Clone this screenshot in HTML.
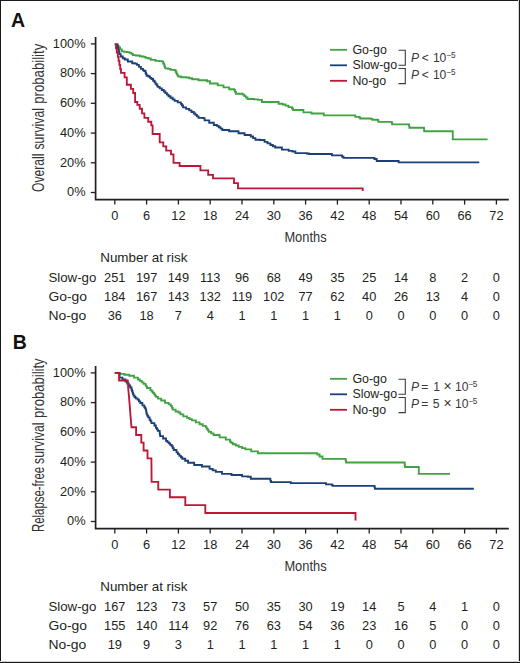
<!DOCTYPE html>
<html><head><meta charset="utf-8"><title>Survival curves</title>
<style>
html,body{margin:0;padding:0;background:#fff;}
body{width:520px;height:663px;overflow:hidden;}
svg{display:block;font-family:"Liberation Sans",sans-serif;}
.lbl{font-size:19.5px;font-weight:bold;fill:#111;}
.ax{fill:#333;}
.tk{font-size:12.8px;fill:#231f20;}
.lg{font-size:12.4px;fill:#231f20;}
.pv{font-size:12.1px;fill:#383838;}
.rk{font-size:12.8px;fill:#231f20;}
</style></head>
<body>
<svg width="520" height="663" viewBox="0 0 520 663">
<rect x="0" y="0" width="520" height="663" fill="#fff"/>
<text x="11" y="26.8" class="lbl">A</text>
<text transform="translate(43.8 191.9) rotate(-90)" x="0" y="0" class="ax" font-size="16.3" textLength="38.4" lengthAdjust="spacingAndGlyphs">Overall</text>
<text transform="translate(43.8 149.5) rotate(-90)" x="0" y="0" class="ax" font-size="16.3" textLength="41.4" lengthAdjust="spacingAndGlyphs">survival</text>
<text transform="translate(43.8 103.8) rotate(-90)" x="0" y="0" class="ax" font-size="16.3" textLength="60.1" lengthAdjust="spacingAndGlyphs">probability</text>
<path d="M95.6 37 V199.6 H508.8" fill="none" stroke="#231f20" stroke-width="1.7"/>
<line x1="90.8" y1="192.5" x2="95.6" y2="192.5" stroke="#231f20" stroke-width="1.3"/>
<text x="85.6" y="196.3" text-anchor="end" class="tk">0%</text>
<line x1="90.8" y1="162.8" x2="95.6" y2="162.8" stroke="#231f20" stroke-width="1.3"/>
<text x="85.6" y="166.6" text-anchor="end" class="tk">20%</text>
<line x1="90.8" y1="133.1" x2="95.6" y2="133.1" stroke="#231f20" stroke-width="1.3"/>
<text x="85.6" y="136.9" text-anchor="end" class="tk">40%</text>
<line x1="90.8" y1="103.3" x2="95.6" y2="103.3" stroke="#231f20" stroke-width="1.3"/>
<text x="85.6" y="107.1" text-anchor="end" class="tk">60%</text>
<line x1="90.8" y1="73.6" x2="95.6" y2="73.6" stroke="#231f20" stroke-width="1.3"/>
<text x="85.6" y="77.4" text-anchor="end" class="tk">80%</text>
<line x1="90.8" y1="43.9" x2="95.6" y2="43.9" stroke="#231f20" stroke-width="1.3"/>
<text x="85.6" y="47.7" text-anchor="end" class="tk">100%</text>
<line x1="114.8" y1="199.6" x2="114.8" y2="204.6" stroke="#231f20" stroke-width="1.3"/>
<text x="114.8" y="220.4" text-anchor="middle" class="tk">0</text>
<line x1="146.6" y1="199.6" x2="146.6" y2="204.6" stroke="#231f20" stroke-width="1.3"/>
<text x="146.6" y="220.4" text-anchor="middle" class="tk">6</text>
<line x1="178.4" y1="199.6" x2="178.4" y2="204.6" stroke="#231f20" stroke-width="1.3"/>
<text x="178.4" y="220.4" text-anchor="middle" class="tk">12</text>
<line x1="210.2" y1="199.6" x2="210.2" y2="204.6" stroke="#231f20" stroke-width="1.3"/>
<text x="210.2" y="220.4" text-anchor="middle" class="tk">18</text>
<line x1="242" y1="199.6" x2="242" y2="204.6" stroke="#231f20" stroke-width="1.3"/>
<text x="242" y="220.4" text-anchor="middle" class="tk">24</text>
<line x1="273.8" y1="199.6" x2="273.8" y2="204.6" stroke="#231f20" stroke-width="1.3"/>
<text x="273.8" y="220.4" text-anchor="middle" class="tk">30</text>
<line x1="305.6" y1="199.6" x2="305.6" y2="204.6" stroke="#231f20" stroke-width="1.3"/>
<text x="305.6" y="220.4" text-anchor="middle" class="tk">36</text>
<line x1="337.4" y1="199.6" x2="337.4" y2="204.6" stroke="#231f20" stroke-width="1.3"/>
<text x="337.4" y="220.4" text-anchor="middle" class="tk">42</text>
<line x1="369.2" y1="199.6" x2="369.2" y2="204.6" stroke="#231f20" stroke-width="1.3"/>
<text x="369.2" y="220.4" text-anchor="middle" class="tk">48</text>
<line x1="401" y1="199.6" x2="401" y2="204.6" stroke="#231f20" stroke-width="1.3"/>
<text x="401" y="220.4" text-anchor="middle" class="tk">54</text>
<line x1="432.8" y1="199.6" x2="432.8" y2="204.6" stroke="#231f20" stroke-width="1.3"/>
<text x="432.8" y="220.4" text-anchor="middle" class="tk">60</text>
<line x1="464.6" y1="199.6" x2="464.6" y2="204.6" stroke="#231f20" stroke-width="1.3"/>
<text x="464.6" y="220.4" text-anchor="middle" class="tk">66</text>
<line x1="496.4" y1="199.6" x2="496.4" y2="204.6" stroke="#231f20" stroke-width="1.3"/>
<text x="496.4" y="220.4" text-anchor="middle" class="tk">72</text>
<text x="305.5" y="242.3" text-anchor="middle" class="ax" font-size="15.5" textLength="42.2" lengthAdjust="spacingAndGlyphs">Months</text>
<path d="M114.8 44.3 L117 44.3 L117.8 44.3 L117.8 45.8 L118.7 45.8 L118.7 47.4 L120.1 47.4 L120.1 49.4 L121.8 49.4 L121.8 51.4 L124.1 51.4 L124.1 51.8 L126.8 51.8 L126.8 52.1 L129.5 52.1 L129.5 52.8 L131.5 52.8 L131.5 53.8 L132.9 53.8 L132.9 55.1 L135.6 55.1 L135.6 55.5 L137.6 55.5 L139.6 55.5 L139.6 56.2 L141.6 56.2 L141.6 56.5 L143.6 56.5 L143.6 56.8 L145.6 56.8 L145.6 57.8 L148.4 57.8 L148.4 58.5 L150.8 58.5 L150.8 59.8 L155.6 59.8 L155.6 60.8 L159.4 60.8 L159.4 61.1 L162.3 61.1 L162.3 61.6 L163.2 61.6 L163.2 63.5 L164.2 63.5 L164.2 65.5 L164.7 65.5 L164.7 66.9 L165.2 66.9 L165.2 68.3 L168.1 68.3 L168.1 68.8 L170.5 68.8 L170.5 69.8 L174.8 69.8 L174.8 70.2 L175.8 70.2 L175.8 72.2 L176.7 72.2 L176.7 74.1 L177.4 74.1 L177.4 75.3 L178.2 75.3 L178.2 76.5 L181.1 76.5 L181.1 77.2 L186.3 77.2 L186.3 77.5 L189.2 77.5 L189.2 78.2 L192.1 78.2 L192.1 79.2 L198.5 79.2 L198.5 80.2 L207.1 80.2 L207.1 81.2 L210 81.2 L210 83.5 L213.8 83.5 L217.7 83.5 L217.7 85.4 L223.5 85.4 L223.5 87.3 L229.2 87.3 L229.2 89.2 L234 89.2 L234 89.8 L235 89.8 L235 91.8 L236 91.8 L236 93.7 L242.7 93.7 L242.7 94.6 L244.3 94.6 L244.3 96.1 L245.9 96.1 L245.9 97.5 L247.5 97.5 L247.5 99 L254.2 99 L254.2 99.4 L257.9 99.4 L257.9 99.8 L261.9 99.8 L261.9 102 L277.5 102 L278.6 102 L278.6 103.7 L282.7 103.7 L282.7 104.5 L285.6 104.5 L285.6 105.6 L288.4 105.6 L288.4 107.1 L290.8 107.1 L292 107.1 L292 108.5 L293.1 108.5 L293.1 110 L301.7 110 L303.4 110 L303.4 112.3 L310.4 112.3 L311.5 112.3 L311.5 113.5 L323 113.5 L323.8 113.5 L323.8 115.4 L354.1 115.4 L355.3 115.4 L355.3 116.8 L359.3 116.8 L359.3 117.5 L360.2 117.5 L360.2 118.5 L370.6 118.5 L370.6 118.8 L372.3 118.8 L372.3 119.7 L377.5 119.7 L377.5 120 L378.3 120 L378.3 121.8 L391.3 121.8 L391.8 121.8 L391.8 123.1 L392.2 123.1 L392.2 124.4 L408.8 124.4 L409.1 124.4 L409.1 126.1 L409.4 126.1 L409.4 127.7 L423.8 127.7 L424 127.7 L424 129.4 L424.2 129.4 L424.2 131.2 L452.8 131.2 L452.8 139.3 L487.6 139.3" fill="none" stroke="#42a243" stroke-width="1.85" stroke-linejoin="miter" stroke-linecap="butt"/>
<path d="M114.8 44.3 L117 44.3 L117.3 44.3 L117.3 45.8 L117.7 45.8 L117.7 47.2 L118.1 47.2 L118.1 48.6 L118.4 48.6 L118.4 50.1 L118.9 50.1 L118.9 52.1 L119.4 52.1 L119.4 54.1 L120.7 54.1 L120.7 56.5 L122.8 56.5 L122.8 58.2 L124.8 58.2 L124.8 59.5 L127.5 59.5 L127.8 59.5 L127.8 61.5 L130.2 61.5 L132.2 61.5 L132.2 63.2 L134.9 63.2 L134.9 63.6 L136.9 63.6 L136.9 64.9 L138.9 64.9 L138.9 66.9 L140.9 66.9 L140.9 68.9 L143 68.9 L143 70.3 L144.3 70.3 L144.3 71 L145.6 71 L145.6 73 L146.1 73 L146.1 74.3 L146.7 74.3 L146.7 75.7 L148.5 75.7 L148.5 76.5 L150 76.5 L150 77.8 L151.5 77.8 L151.5 79 L153.1 79 L153.1 80.7 L154.6 80.7 L154.6 82.3 L155.6 82.3 L155.6 83.8 L156.7 83.8 L156.7 85.4 L157.7 85.4 L157.7 86.9 L159.7 86.9 L159.7 88.4 L161.8 88.4 L161.8 90 L163.8 90 L163.8 91.5 L165.4 91.5 L165.4 93.1 L166.9 93.1 L166.9 94.6 L168.5 94.6 L168.5 96.2 L170.5 96.2 L170.5 97.7 L172.6 97.7 L172.6 99.3 L174.6 99.3 L174.6 100.8 L177.7 100.8 L177.7 102.3 L180.8 102.3 L180.8 103.8 L181.9 103.8 L181.9 105.5 L183.1 105.5 L183.1 107.3 L186.1 107.3 L186.1 108.8 L189.2 108.8 L189.2 110.4 L191.5 110.4 L191.5 112 L193.8 112 L193.8 113.5 L195.4 113.5 L195.4 114.9 L196.9 114.9 L196.9 116.4 L198.5 116.4 L198.5 117.8 L203.1 117.8 L203.1 118.1 L204.6 118.1 L204.6 120.4 L209.2 120.4 L209.2 122.7 L213.8 122.7 L213.8 125 L216.9 125 L216.9 125.8 L218.7 125.8 L218.7 127.2 L220.5 127.2 L220.5 128.6 L222.3 128.6 L222.3 130 L229.2 130 L229.2 131.2 L234.6 131.2 L238.5 131.2 L238.5 133.2 L241.5 133.2 L244.6 133.2 L244.6 135 L250.8 135 L250.8 136.5 L253.1 136.5 L253.1 138.1 L255.4 138.1 L255.4 139.7 L259.8 139.7 L259.8 140 L264.6 140 L264.6 141.9 L267.5 141.9 L267.5 143.4 L270.4 143.4 L270.4 145 L272.8 145 L272.8 146.2 L275.2 146.2 L275.2 147.5 L280 147.5 L281.9 147.5 L281.9 149.6 L288.7 149.6 L288.7 150.8 L292.5 150.8 L292.5 151.5 L295.4 151.5 L295.4 153.1 L306.9 153.1 L306.9 153.5 L308.8 153.5 L308.8 154 L331 154 L331.9 154 L331.9 155.4 L340.6 155.4 L342.1 155.4 L342.1 156.7 L343.5 156.7 L343.5 157.9 L373.8 157.9 L374.4 157.9 L374.4 159 L376.7 159 L376.7 161 L398.1 161 L398.6 161 L398.6 162.3 L479.3 162.3" fill="none" stroke="#1b4076" stroke-width="1.85" stroke-linejoin="miter" stroke-linecap="butt"/>
<path d="M114.8 44.3 L116 44.3 L116 48.4 L116.8 48.4 L116.8 52.5 L117.8 52.5 L117.8 56.7 L118.6 56.7 L118.6 60.8 L119.4 60.8 L119.4 64.9 L120.2 64.9 L120.2 69.1 L121 69.1 L121 72.8 L124.6 72.8 L124.6 77.3 L126.8 77.3 L126.8 84.7 L130.9 84.7 L130.9 88.8 L133.2 88.8 L133.2 93 L135.1 93 L135.1 102 L137.3 102 L137.3 104.9 L139.7 104.9 L139.7 108.7 L142 108.7 L142 113.4 L144.4 113.4 L144.4 117.8 L148.2 117.8 L148.2 121.7 L151.3 121.7 L151.3 125.4 L152.6 125.4 L152.6 134 L159.7 134 L159.7 142.4 L163.3 142.4 L163.3 146.3 L166.2 146.3 L166.2 150.6 L171 150.6 L171 154.3 L173.5 154.3 L173.5 162.9 L179.6 162.9 L179.6 166 L200.4 166 L200.4 170.4 L208.2 170.4 L208.2 174.9 L213 174.9 L213 178.4 L234 178.4 L234 183.1 L238 183.1 L238 188.3 L362.7 188.3 L362.7 191" fill="none" stroke="#bb1838" stroke-width="1.85" stroke-linejoin="miter" stroke-linecap="butt"/>
<line x1="330" y1="49.8" x2="347" y2="49.8" stroke="#42a243" stroke-width="1.8"/>
<text x="352.4" y="53.6" class="lg">Go-go</text>
<line x1="330" y1="65.3" x2="347" y2="65.3" stroke="#1b4076" stroke-width="1.8"/>
<text x="352.4" y="69.1" class="lg">Slow-go</text>
<line x1="330" y1="80.8" x2="347" y2="80.8" stroke="#bb1838" stroke-width="1.8"/>
<text x="352.4" y="84.6" class="lg">No-go</text>
<path d="M398.5 50.3 H405.3 V65.2 H398.5 M398.5 68.5 H405.3 V83.6 H398.5" fill="none" stroke="#3a3a3a" stroke-width="1.1"/>
<text x="411" y="62" class="pv" font-style="italic">P</text>
<text x="421.7" y="62" class="pv">&lt;</text>
<text x="432.9" y="62" class="pv">10</text>
<text x="446.7" y="57.5" class="pv" style="font-size:8.2px">−</text>
<text x="451.1" y="57.5" class="pv" style="font-size:8.2px">5</text>
<text x="411" y="79.2" class="pv" font-style="italic">P</text>
<text x="421.7" y="79.2" class="pv">&lt;</text>
<text x="432.9" y="79.2" class="pv">10</text>
<text x="446.7" y="74.7" class="pv" style="font-size:8.2px">−</text>
<text x="451.1" y="74.7" class="pv" style="font-size:8.2px">5</text>
<text x="100.2" y="262.3" class="rk" textLength="87.3" lengthAdjust="spacingAndGlyphs">Number at risk</text>
<text x="48.4" y="281.6" class="rk" textLength="48.0" lengthAdjust="spacingAndGlyphs">Slow-go</text>
<text x="114.8" y="281.6" text-anchor="middle" class="rk">251</text>
<text x="146.6" y="281.6" text-anchor="middle" class="rk">197</text>
<text x="178.4" y="281.6" text-anchor="middle" class="rk">149</text>
<text x="210.2" y="281.6" text-anchor="middle" class="rk">113</text>
<text x="242" y="281.6" text-anchor="middle" class="rk">96</text>
<text x="273.8" y="281.6" text-anchor="middle" class="rk">68</text>
<text x="305.6" y="281.6" text-anchor="middle" class="rk">49</text>
<text x="337.4" y="281.6" text-anchor="middle" class="rk">35</text>
<text x="369.2" y="281.6" text-anchor="middle" class="rk">25</text>
<text x="401" y="281.6" text-anchor="middle" class="rk">14</text>
<text x="432.8" y="281.6" text-anchor="middle" class="rk">8</text>
<text x="464.6" y="281.6" text-anchor="middle" class="rk">2</text>
<text x="496.4" y="281.6" text-anchor="middle" class="rk">0</text>
<text x="48.4" y="300.7" class="rk" textLength="38.6" lengthAdjust="spacingAndGlyphs">Go-go</text>
<text x="114.8" y="300.7" text-anchor="middle" class="rk">184</text>
<text x="146.6" y="300.7" text-anchor="middle" class="rk">167</text>
<text x="178.4" y="300.7" text-anchor="middle" class="rk">143</text>
<text x="210.2" y="300.7" text-anchor="middle" class="rk">132</text>
<text x="242" y="300.7" text-anchor="middle" class="rk">119</text>
<text x="273.8" y="300.7" text-anchor="middle" class="rk">102</text>
<text x="305.6" y="300.7" text-anchor="middle" class="rk">77</text>
<text x="337.4" y="300.7" text-anchor="middle" class="rk">62</text>
<text x="369.2" y="300.7" text-anchor="middle" class="rk">40</text>
<text x="401" y="300.7" text-anchor="middle" class="rk">26</text>
<text x="432.8" y="300.7" text-anchor="middle" class="rk">13</text>
<text x="464.6" y="300.7" text-anchor="middle" class="rk">4</text>
<text x="496.4" y="300.7" text-anchor="middle" class="rk">0</text>
<text x="48.4" y="319.8" class="rk" textLength="37.9" lengthAdjust="spacingAndGlyphs">No-go</text>
<text x="114.8" y="319.8" text-anchor="middle" class="rk">36</text>
<text x="146.6" y="319.8" text-anchor="middle" class="rk">18</text>
<text x="178.4" y="319.8" text-anchor="middle" class="rk">7</text>
<text x="210.2" y="319.8" text-anchor="middle" class="rk">4</text>
<text x="242" y="319.8" text-anchor="middle" class="rk">1</text>
<text x="273.8" y="319.8" text-anchor="middle" class="rk">1</text>
<text x="305.6" y="319.8" text-anchor="middle" class="rk">1</text>
<text x="337.4" y="319.8" text-anchor="middle" class="rk">1</text>
<text x="369.2" y="319.8" text-anchor="middle" class="rk">0</text>
<text x="401" y="319.8" text-anchor="middle" class="rk">0</text>
<text x="432.8" y="319.8" text-anchor="middle" class="rk">0</text>
<text x="464.6" y="319.8" text-anchor="middle" class="rk">0</text>
<text x="496.4" y="319.8" text-anchor="middle" class="rk">0</text>
<text x="12.7" y="348.7" class="lbl">B</text>
<text transform="translate(43.8 532) rotate(-90)" x="0" y="0" class="ax" font-size="16.3" textLength="65.1" lengthAdjust="spacingAndGlyphs">Relapse-free</text>
<text transform="translate(43.8 464) rotate(-90)" x="0" y="0" class="ax" font-size="16.3" textLength="41.6" lengthAdjust="spacingAndGlyphs">survival</text>
<text transform="translate(43.8 417.9) rotate(-90)" x="0" y="0" class="ax" font-size="16.3" textLength="59.5" lengthAdjust="spacingAndGlyphs">probability</text>
<path d="M95.6 366 V528.6 H508.8" fill="none" stroke="#231f20" stroke-width="1.7"/>
<line x1="90.8" y1="521.5" x2="95.6" y2="521.5" stroke="#231f20" stroke-width="1.3"/>
<text x="85.6" y="525.3" text-anchor="end" class="tk">0%</text>
<line x1="90.8" y1="491.8" x2="95.6" y2="491.8" stroke="#231f20" stroke-width="1.3"/>
<text x="85.6" y="495.6" text-anchor="end" class="tk">20%</text>
<line x1="90.8" y1="462.1" x2="95.6" y2="462.1" stroke="#231f20" stroke-width="1.3"/>
<text x="85.6" y="465.9" text-anchor="end" class="tk">40%</text>
<line x1="90.8" y1="432.3" x2="95.6" y2="432.3" stroke="#231f20" stroke-width="1.3"/>
<text x="85.6" y="436.1" text-anchor="end" class="tk">60%</text>
<line x1="90.8" y1="402.6" x2="95.6" y2="402.6" stroke="#231f20" stroke-width="1.3"/>
<text x="85.6" y="406.4" text-anchor="end" class="tk">80%</text>
<line x1="90.8" y1="372.9" x2="95.6" y2="372.9" stroke="#231f20" stroke-width="1.3"/>
<text x="85.6" y="376.7" text-anchor="end" class="tk">100%</text>
<line x1="114.8" y1="528.6" x2="114.8" y2="533.6" stroke="#231f20" stroke-width="1.3"/>
<text x="114.8" y="549.4" text-anchor="middle" class="tk">0</text>
<line x1="146.6" y1="528.6" x2="146.6" y2="533.6" stroke="#231f20" stroke-width="1.3"/>
<text x="146.6" y="549.4" text-anchor="middle" class="tk">6</text>
<line x1="178.4" y1="528.6" x2="178.4" y2="533.6" stroke="#231f20" stroke-width="1.3"/>
<text x="178.4" y="549.4" text-anchor="middle" class="tk">12</text>
<line x1="210.2" y1="528.6" x2="210.2" y2="533.6" stroke="#231f20" stroke-width="1.3"/>
<text x="210.2" y="549.4" text-anchor="middle" class="tk">18</text>
<line x1="242" y1="528.6" x2="242" y2="533.6" stroke="#231f20" stroke-width="1.3"/>
<text x="242" y="549.4" text-anchor="middle" class="tk">24</text>
<line x1="273.8" y1="528.6" x2="273.8" y2="533.6" stroke="#231f20" stroke-width="1.3"/>
<text x="273.8" y="549.4" text-anchor="middle" class="tk">30</text>
<line x1="305.6" y1="528.6" x2="305.6" y2="533.6" stroke="#231f20" stroke-width="1.3"/>
<text x="305.6" y="549.4" text-anchor="middle" class="tk">36</text>
<line x1="337.4" y1="528.6" x2="337.4" y2="533.6" stroke="#231f20" stroke-width="1.3"/>
<text x="337.4" y="549.4" text-anchor="middle" class="tk">42</text>
<line x1="369.2" y1="528.6" x2="369.2" y2="533.6" stroke="#231f20" stroke-width="1.3"/>
<text x="369.2" y="549.4" text-anchor="middle" class="tk">48</text>
<line x1="401" y1="528.6" x2="401" y2="533.6" stroke="#231f20" stroke-width="1.3"/>
<text x="401" y="549.4" text-anchor="middle" class="tk">54</text>
<line x1="432.8" y1="528.6" x2="432.8" y2="533.6" stroke="#231f20" stroke-width="1.3"/>
<text x="432.8" y="549.4" text-anchor="middle" class="tk">60</text>
<line x1="464.6" y1="528.6" x2="464.6" y2="533.6" stroke="#231f20" stroke-width="1.3"/>
<text x="464.6" y="549.4" text-anchor="middle" class="tk">66</text>
<line x1="496.4" y1="528.6" x2="496.4" y2="533.6" stroke="#231f20" stroke-width="1.3"/>
<text x="496.4" y="549.4" text-anchor="middle" class="tk">72</text>
<text x="305.5" y="571.3" text-anchor="middle" class="ax" font-size="15.5" textLength="42.2" lengthAdjust="spacingAndGlyphs">Months</text>
<path d="M114.8 372.8 L119.6 372.8 L119.6 373.8 L124.4 373.8 L124.4 374.7 L129.2 374.7 L129.2 375.7 L134 375.7 L134 377.6 L137.9 377.6 L137.9 379.5 L139.8 379.5 L139.8 380.9 L141.7 380.9 L141.7 382.4 L143.6 382.4 L143.6 383.9 L145.6 383.9 L145.6 385.3 L146.3 385.3 L146.3 386.6 L147 386.6 L147 388 L150.4 388 L150.4 390.1 L151.7 390.1 L151.7 391.5 L152.9 391.5 L152.9 392.9 L154.2 392.9 L154.2 394.3 L155.1 394.3 L155.1 395.6 L156 395.6 L156 396.8 L158 396.8 L158 398.6 L161.2 398.6 L161.2 400.5 L165 400.5 L165 402.9 L168.8 402.9 L168.8 404.3 L170.8 404.3 L170.8 405.8 L171.8 405.8 L171.8 407.7 L172.7 407.7 L172.7 409.6 L175.6 409.6 L175.6 411.5 L178.5 411.5 L178.5 412.5 L180.4 412.5 L180.4 414.4 L183.3 414.4 L183.3 416.3 L187.1 416.3 L187.1 417.8 L189.5 417.8 L189.5 419.1 L191.9 419.1 L191.9 420.4 L195.8 420.4 L195.8 422.3 L199.6 422.3 L199.6 424.2 L202.7 424.2 L202.7 425.8 L205.8 425.8 L205.8 427.3 L206.8 427.3 L206.8 428.8 L207.8 428.8 L207.8 430.4 L208.8 430.4 L208.8 431.9 L211.2 431.9 L211.2 433.4 L213.5 433.4 L213.5 435 L219.6 435 L219.6 437.3 L225.8 437.3 L225.8 439.6 L230 439.6 L230 441.7 L231.4 441.7 L231.4 442.9 L232.9 442.9 L232.9 444.2 L235.8 444.2 L235.8 445.5 L238.7 445.5 L238.7 446.9 L242.1 446.9 L242.1 448.1 L245.4 448.1 L245.4 449.4 L251.2 449.4 L251.2 451.3 L257.9 451.3 L257.9 453.2 L314.4 453.2 L317.3 453.2 L317.3 454.5 L319.6 454.5 L319.6 456.5 L322.5 456.5 L322.5 458.8 L345 458.8 L345.6 458.8 L345.6 460.6 L346.1 460.6 L346.1 462.5 L404.5 462.5 L404.7 462.5 L404.7 464 L404.8 464 L404.8 465.5 L405 465.5 L405 467 L418.8 467 L418.8 473.9 L450 473.9" fill="none" stroke="#42a243" stroke-width="1.85" stroke-linejoin="miter" stroke-linecap="butt"/>
<path d="M114.8 372.8 L119.6 372.8 L119.6 373.8 L119.6 377.6 L122.5 377.6 L122.5 379.5 L125.5 379.5 L125.5 381.5 L127.2 381.5 L127.2 383.5 L128.8 383.5 L128.8 385.5 L130.2 385.5 L130.2 387.5 L131.5 387.5 L131.5 389.5 L132 389.5 L132 391 L132.5 391 L132.5 392.6 L133 392.6 L133 394.1 L133.5 394.1 L133.5 395.6 L134.6 395.6 L134.6 397 L135.6 397 L135.6 398.3 L137.6 398.3 L137.6 399.6 L138.9 399.6 L138.9 401.3 L140.3 401.3 L140.3 403 L142.4 403 L142.4 405.3 L144.3 405.3 L144.3 407.2 L145.1 407.2 L145.1 408.4 L145.8 408.4 L145.8 409.6 L146.1 409.6 L146.1 411.2 L146.4 411.2 L146.4 412.8 L146.7 412.8 L146.7 414.4 L147.4 414.4 L147.4 415.9 L148.2 415.9 L148.2 417.3 L149.6 417.3 L149.6 419.7 L150.6 419.7 L150.6 421.4 L151.5 421.4 L151.5 423.1 L154.4 423.1 L154.4 425.5 L155.9 425.5 L155.9 427.9 L156.9 427.9 L156.9 429.4 L157.8 429.4 L157.8 430.8 L159.7 430.8 L159.7 433.2 L159.9 433.2 L159.9 434.6 L160.2 434.6 L160.2 436.1 L163.1 436.1 L163.1 438.5 L166 438.5 L166 440.9 L167.4 440.9 L167.4 442.1 L168.8 442.1 L168.8 443.3 L170.2 443.3 L170.2 444.8 L171.7 444.8 L171.7 446.2 L172.7 446.2 L172.7 448.1 L173.7 448.1 L173.7 450 L176.5 450 L176.5 452.4 L177.9 452.4 L177.9 454.1 L179.4 454.1 L179.4 455.8 L180.9 455.8 L180.9 457.2 L182.3 457.2 L182.3 458.7 L185.2 458.7 L185.2 460.7 L188.1 460.7 L188.1 462.7 L194.2 462.7 L194.2 465 L201.9 465 L201.9 466.5 L209.6 466.5 L209.6 468.8 L212.7 468.8 L212.7 470.4 L215.8 470.4 L215.8 471.9 L222 471.9 L222 473.8 L230.6 473.8 L231.5 473.8 L231.5 475 L241.2 475 L242.1 475 L242.1 476.3 L247.9 476.3 L247.9 476.7 L250.8 476.7 L250.8 478.7 L267.1 478.7 L270.4 478.7 L270.4 480.8 L271 480.8 L271 482.1 L289.2 482.1 L290.8 482.1 L290.8 483.1 L325.5 483.1 L326 483.1 L326 484.4 L331.8 484.4 L331.8 484.7 L332.5 484.7 L332.5 485.8 L374.2 485.8 L374.5 485.8 L374.5 487.2 L374.9 487.2 L374.9 488.7 L473.8 488.7" fill="none" stroke="#1b4076" stroke-width="1.85" stroke-linejoin="miter" stroke-linecap="butt"/>
<path d="M114.8 372.8 L119.1 372.8 L119.1 380.5 L127.8 380.5 L128.2 388.2 L128.9 396 L129.6 403.8 L130.2 411.6 L130.8 419.4 L131.5 427.2 L136.1 427.2 L136.1 435 L141.3 435 L141.3 442.6 L143.6 442.6 L143.6 450.5 L147.5 450.5 L147.5 458.4 L151.4 458.4 L151.6 481.8 L158.2 481.8 L158.3 489.6 L169.9 489.6 L169.9 497.2 L185.3 497.2 L185.3 505.1 L205.3 505.1 L205.3 513 L355.5 513 L355.5 520.6" fill="none" stroke="#bb1838" stroke-width="1.85" stroke-linejoin="miter" stroke-linecap="butt"/>
<line x1="330" y1="378.8" x2="347" y2="378.8" stroke="#42a243" stroke-width="1.8"/>
<text x="352.4" y="382.6" class="lg">Go-go</text>
<line x1="330" y1="394.3" x2="347" y2="394.3" stroke="#1b4076" stroke-width="1.8"/>
<text x="352.4" y="398.1" class="lg">Slow-go</text>
<line x1="330" y1="409.8" x2="347" y2="409.8" stroke="#bb1838" stroke-width="1.8"/>
<text x="352.4" y="413.6" class="lg">No-go</text>
<path d="M398.5 379.3 H405.3 V394.2 H398.5 M398.5 397.5 H405.3 V412.6 H398.5" fill="none" stroke="#3a3a3a" stroke-width="1.1"/>
<text x="410.9" y="391" class="pv" font-style="italic">P</text>
<text x="421.2" y="391" class="pv">=</text>
<text x="433.3" y="391" class="pv">1</text>
<text x="443.4" y="391" class="pv" style="font-size:14px">×</text>
<text x="455" y="391" class="pv">10</text>
<text x="468.8" y="386.5" class="pv" style="font-size:8.2px">−</text>
<text x="472.8" y="386.5" class="pv" style="font-size:8.2px">5</text>
<text x="410.9" y="408.2" class="pv" font-style="italic">P</text>
<text x="421.2" y="408.2" class="pv">=</text>
<text x="432.8" y="408.2" class="pv">5</text>
<text x="443.4" y="408.2" class="pv" style="font-size:14px">×</text>
<text x="455" y="408.2" class="pv">10</text>
<text x="468.8" y="403.7" class="pv" style="font-size:8.2px">−</text>
<text x="472.8" y="403.7" class="pv" style="font-size:8.2px">5</text>
<text x="100.2" y="591.3" class="rk" textLength="87.3" lengthAdjust="spacingAndGlyphs">Number at risk</text>
<text x="48.4" y="610.6" class="rk" textLength="48.0" lengthAdjust="spacingAndGlyphs">Slow-go</text>
<text x="114.8" y="610.6" text-anchor="middle" class="rk">167</text>
<text x="146.6" y="610.6" text-anchor="middle" class="rk">123</text>
<text x="178.4" y="610.6" text-anchor="middle" class="rk">73</text>
<text x="210.2" y="610.6" text-anchor="middle" class="rk">57</text>
<text x="242" y="610.6" text-anchor="middle" class="rk">50</text>
<text x="273.8" y="610.6" text-anchor="middle" class="rk">35</text>
<text x="305.6" y="610.6" text-anchor="middle" class="rk">30</text>
<text x="337.4" y="610.6" text-anchor="middle" class="rk">19</text>
<text x="369.2" y="610.6" text-anchor="middle" class="rk">14</text>
<text x="401" y="610.6" text-anchor="middle" class="rk">5</text>
<text x="432.8" y="610.6" text-anchor="middle" class="rk">4</text>
<text x="464.6" y="610.6" text-anchor="middle" class="rk">1</text>
<text x="496.4" y="610.6" text-anchor="middle" class="rk">0</text>
<text x="48.4" y="629.7" class="rk" textLength="38.6" lengthAdjust="spacingAndGlyphs">Go-go</text>
<text x="114.8" y="629.7" text-anchor="middle" class="rk">155</text>
<text x="146.6" y="629.7" text-anchor="middle" class="rk">140</text>
<text x="178.4" y="629.7" text-anchor="middle" class="rk">114</text>
<text x="210.2" y="629.7" text-anchor="middle" class="rk">92</text>
<text x="242" y="629.7" text-anchor="middle" class="rk">76</text>
<text x="273.8" y="629.7" text-anchor="middle" class="rk">63</text>
<text x="305.6" y="629.7" text-anchor="middle" class="rk">54</text>
<text x="337.4" y="629.7" text-anchor="middle" class="rk">36</text>
<text x="369.2" y="629.7" text-anchor="middle" class="rk">23</text>
<text x="401" y="629.7" text-anchor="middle" class="rk">16</text>
<text x="432.8" y="629.7" text-anchor="middle" class="rk">5</text>
<text x="464.6" y="629.7" text-anchor="middle" class="rk">0</text>
<text x="496.4" y="629.7" text-anchor="middle" class="rk">0</text>
<text x="48.4" y="648.8" class="rk" textLength="37.9" lengthAdjust="spacingAndGlyphs">No-go</text>
<text x="114.8" y="648.8" text-anchor="middle" class="rk">19</text>
<text x="146.6" y="648.8" text-anchor="middle" class="rk">9</text>
<text x="178.4" y="648.8" text-anchor="middle" class="rk">3</text>
<text x="210.2" y="648.8" text-anchor="middle" class="rk">1</text>
<text x="242" y="648.8" text-anchor="middle" class="rk">1</text>
<text x="273.8" y="648.8" text-anchor="middle" class="rk">1</text>
<text x="305.6" y="648.8" text-anchor="middle" class="rk">1</text>
<text x="337.4" y="648.8" text-anchor="middle" class="rk">1</text>
<text x="369.2" y="648.8" text-anchor="middle" class="rk">0</text>
<text x="401" y="648.8" text-anchor="middle" class="rk">0</text>
<text x="432.8" y="648.8" text-anchor="middle" class="rk">0</text>
<text x="464.6" y="648.8" text-anchor="middle" class="rk">0</text>
<text x="496.4" y="648.8" text-anchor="middle" class="rk">0</text>
<g shape-rendering="crispEdges">
<rect x="0" y="0" width="520" height="1" fill="#1a1a1a"/>
<rect x="0" y="0" width="1" height="663" fill="#1a1a1a"/>
<rect x="518" y="0" width="1" height="663" fill="#d4d4d4"/>
<rect x="519" y="0" width="1" height="663" fill="#1a1a1a"/>
<rect x="0" y="661" width="520" height="1" fill="#d4d4d4"/>
<rect x="0" y="662" width="520" height="1" fill="#1a1a1a"/>
</g>
</svg>
</body></html>
